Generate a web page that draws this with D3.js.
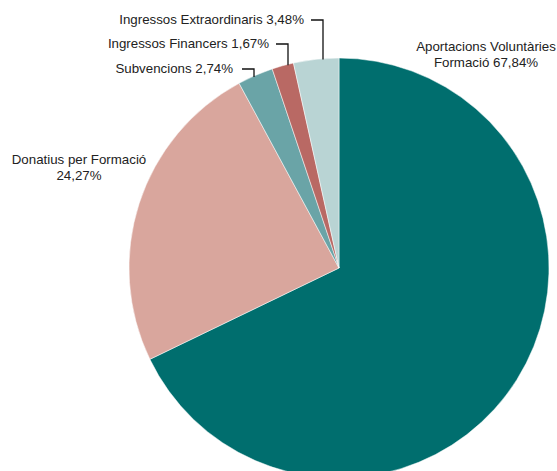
<!DOCTYPE html>
<html><head><meta charset="utf-8">
<script src="https://cdn.jsdelivr.net/npm/d3@7"></script>
<style>body{margin:0;background:#fff}svg{display:block}text{font-family:"Liberation Sans",Arial,sans-serif;font-size:13.3px;fill:#222}</style>
</head><body><svg id="c" width="557" height="471"></svg>
<script>
const categories = ["Aportacions Voluntàries Formació","Donatius per Formació","Subvencions","Ingressos Financers","Ingressos Extraordinaris"];
const values = [67.84, 24.27, 2.74, 1.67, 3.48];
const colors = ["#006e6e","#d9a69d","#6aa4a7","#b96964","#b9d4d4"];

const svg = d3.select("#c");
const cx = 339, cy = 268, r = 210;
const g = svg.append("g").attr("transform",`translate(${cx},${cy})`);
const pie = d3.pie().sort(null).value(d=>d.v);
const arcs = pie(categories.map((c,i)=>({c,v:values[i],col:colors[i]})));
const arc = d3.arc().innerRadius(0).outerRadius(r);
g.selectAll("path").data(arcs).join("path").attr("d",arc).attr("fill",d=>d.data.col)
  .attr("stroke","#fff").attr("stroke-width",0.5);

const fmt = v => v.toFixed(2).replace(".",",") + "%";
const multi = [
  {i:0, lines:["Aportacions Voluntàries","Formació "+fmt(values[0])], x:486, y:51},
  {i:1, lines:["Donatius per Formació", fmt(values[1])], x:79, y:164}
];
multi.forEach(m=>{
  const t = svg.append("text").attr("text-anchor","middle").attr("x",m.x).attr("y",m.y);
  m.lines.forEach((l,k)=>t.append("tspan").attr("x",m.x).attr("dy",k?16:0).text(l));
});
const leaders = [
  {i:2, tx:233, ty:73, hx0:242, hx1:254},
  {i:3, tx:269, ty:48, hx0:276, hx1:288},
  {i:4, tx:304, ty:24, hx0:311, hx1:323}
];
leaders.forEach(L=>{
  svg.append("text").attr("text-anchor","end").attr("x",L.tx).attr("y",L.ty)
    .text(categories[L.i]+" "+fmt(values[L.i]));
  const ly = L.ty-4;
  const dx = L.hx1-cx;
  const yEdge = cy - Math.sqrt(r*r-dx*dx);
  svg.append("path").attr("d",`M${L.hx0},${ly}H${L.hx1}V${yEdge+1}`)
    .attr("fill","none").attr("stroke","#111").attr("stroke-width",1.3);
});
</script></body></html>
